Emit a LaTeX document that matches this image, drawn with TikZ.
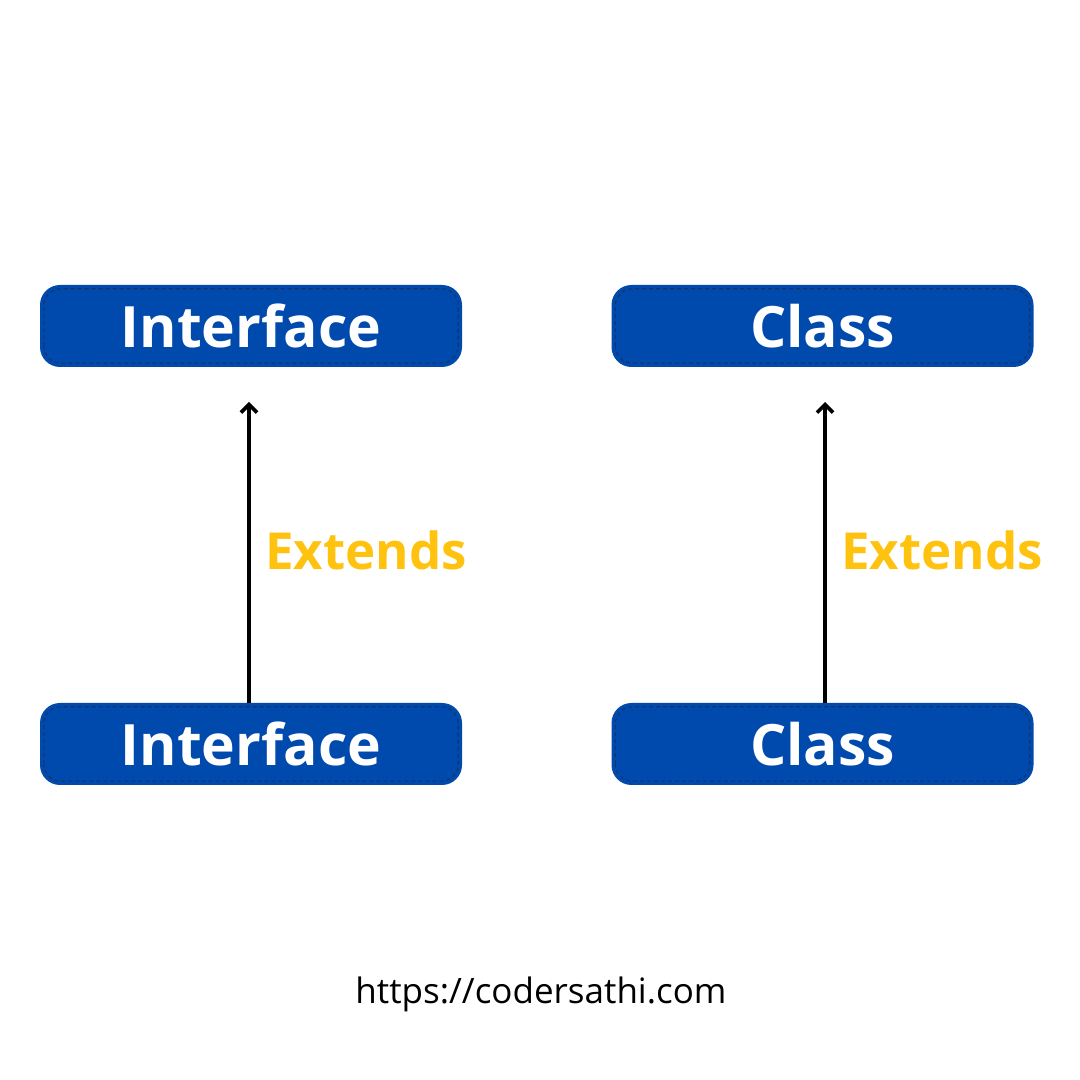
\documentclass[tikz,border=0pt]{standalone}
\usepackage{fontspec}
\setmainfont{Open Sans}
\usetikzlibrary{arrows.meta}
\definecolor{boxblue}{HTML}{004AAD}
\definecolor{dashblue}{HTML}{14336A}
\definecolor{extyellow}{HTML}{FFC20E}
\tikzset{
  box/.style={rectangle, rounded corners=20pt, fill=boxblue, minimum width=422pt, minimum height=82pt,
    text=white, font=\fontsize{57}{57}\selectfont\bfseries, inner sep=0pt},
  innerdash/.style={draw=dashblue, line width=1.1pt, dash pattern=on 4pt off 3pt, rounded corners=17pt},
  conn/.style={line width=4.2pt, -{Straight Barb[length=8pt,width=16pt,line width=3.6pt]}},
  lbl/.style={text=extyellow, font=\fontsize{51}{51}\selectfont\bfseries, anchor=base west, inner sep=0pt},
}
\begin{document}
\begin{tikzpicture}[x=1pt,y=1pt]
\useasboundingbox (0,0) rectangle (1080,1080);
\fill[white] (0,0) rectangle (1080,1080);
% boxes
\node[box] (i1) at (251,754) {Interface};
\node[box] (c1) at (822.5,754) {Class};
\node[box] (i2) at (251,336) {Interface};
\node[box] (c2) at (822.5,336) {Class};
\foreach \n in {i1,c1,i2,c2}{
  \draw[innerdash] ([shift={(4pt,4pt)}]\n.south west) rectangle ([shift={(-4pt,-4pt)}]\n.north east);
}
% connectors
\coordinate (a1) at (249,678);
\coordinate (a2) at (825,678);
\draw[conn] (i2.north -| a1) -- (a1);
\draw[conn] (c2.north -| a2) -- (a2);
% labels
\node[lbl] (e1) at (265,510) {Extends};
\node[lbl] (e2) at (841,510) {Extends};
% url
\node[font=\fontsize{35}{35}\selectfont, anchor=base, inner sep=0pt] (url) at (541,76) {https://codersathi.com};
\end{tikzpicture}
\end{document}
